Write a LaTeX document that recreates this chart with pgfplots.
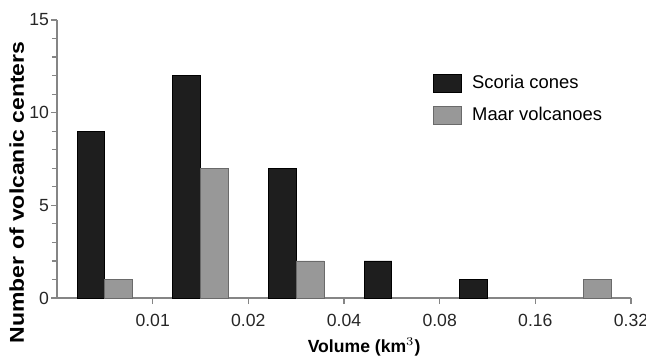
\documentclass[border=0pt]{standalone}
\usepackage{fontspec}
\setmainfont{Liberation Sans}
\newfontfamily\stretchfont[FakeStretch=1.15]{Liberation Sans}
\usepackage{pgfplots}
\pgfplotsset{compat=1.18}
\definecolor{scoria}{HTML}{1E1E1E}
\definecolor{maar}{HTML}{989898}
\definecolor{axgray}{HTML}{858585}
\begin{document}
\begin{tikzpicture}
\useasboundingbox (-28.5pt,-28.5pt) rectangle (294.5pt,149pt);
\begin{axis}[
  scale only axis,
  width=287pt, height=139pt,
  xmin=0, xmax=6, ymin=0, ymax=15,
  axis x line*=bottom, axis y line*=left,
  axis line style={axgray, line width=0.6pt},
  every tick/.style={axgray, line width=0.6pt},
  tick align=outside,
  xtick={1,2,3,4,5,6},
  xticklabels={0.01,0.02,0.04,0.08,0.16,0.32},
  major tick length=3pt,
  ytick={0,5,10,15},
  minor ytick={1,2,3,4,6,7,8,9,11,12,13,14},
  minor tick length=2.5pt,
  /pgf/number format/assume math mode=true,
  tick label style={font=\fontsize{8.8}{10}\selectfont, text=black!85},
  xticklabel style={yshift=-1.5pt},
  yticklabel style={xshift=2.5pt},
  xlabel={Volume (km$^{3}$)},
  xlabel style={at={(axis description cs:0.535,0)}, anchor=center, yshift=-24.5pt, font=\bfseries\fontsize{8.8}{10}\selectfont},
  ylabel={Number of volcanic centers},
  ylabel style={at={(axis description cs:-0.07,0.38)}, anchor=center, font=\stretchfont\bfseries\fontsize{10}{12}\selectfont},
  legend style={draw=none, fill=none, at={(0.655,0.818)}, anchor=north west, inner sep=0pt, row sep=4pt,
    font=\fontsize{9.2}{10}\selectfont, cells={anchor=west}},
  legend cell align=left,
  legend image code/.code={\draw[#1] (0pt,-4.5pt) rectangle (14pt,4.5pt);},
]
\addplot[ybar, bar width=0.29, bar shift=-0.145, fill=scoria, draw=black, line width=0.4pt]
  coordinates {(0.5,9) (1.5,12) (2.5,7) (3.5,2) (4.5,1)};
\addlegendentry{\hspace{3pt}Scoria cones}
\addplot[ybar, bar width=0.29, bar shift=0.145, fill=maar, draw=maar!70!black, line width=0.4pt]
  coordinates {(0.5,1) (1.5,7) (2.5,2) (5.5,1)};
\addlegendentry{\hspace{3pt}Maar volcanoes}
\end{axis}
\end{tikzpicture}
\end{document}
